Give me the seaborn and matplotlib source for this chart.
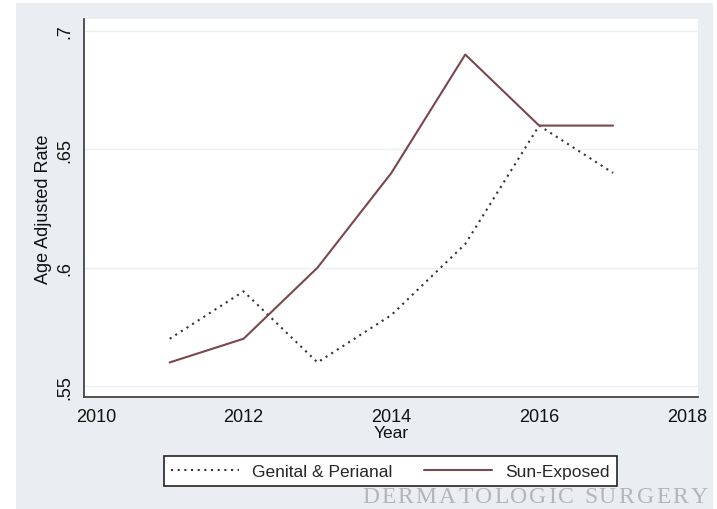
import matplotlib
matplotlib.use("Agg")
import matplotlib.pyplot as plt
import seaborn as sns
import pandas as pd
from matplotlib.patches import Rectangle
from matplotlib.lines import Line2D
from matplotlib.textpath import TextPath
from matplotlib.font_manager import FontProperties

years = [2011, 2012, 2013, 2014, 2015, 2016, 2017]
genital_perianal = [0.57, 0.59, 0.56, 0.58, 0.61, 0.66, 0.64]
sun_exposed = [0.56, 0.57, 0.60, 0.64, 0.69, 0.66, 0.66]
series_names = ["Genital & Perianal", "Sun-Exposed"]
x_ticks = [2010, 2012, 2014, 2016, 2018]
y_ticks = [0.55, 0.60, 0.65, 0.70]
y_tick_labels = [".55", ".6", ".65", ".7"]
watermark = "DERMATOLOGIC SURGERY"

df = pd.DataFrame({
    "Year": years * 2,
    "Rate": genital_perianal + sun_exposed,
    "Site": [series_names[0]] * len(years) + [series_names[1]] * len(years),
})

sns.set_style("white")
plt.rcParams["font.family"] = ["Liberation Sans", "DejaVu Sans"]

W, H = 717, 510
fig = plt.figure(figsize=(W / 100, H / 100), dpi=100)
fig.patch.set_facecolor("white")
# light grey-blue panel behind the graph
fig.patches.append(Rectangle((16 / W, 0), (713 - 16) / W, 506 / H,
                             transform=fig.transFigure, facecolor="#eaeef2",
                             edgecolor="none", zorder=-5))

ax = fig.add_axes([84 / W, (H - 398) / H, (698 - 84) / W, (398 - 20) / H])
ax.set_facecolor("white")

palette = {series_names[0]: "#333333", series_names[1]: "#7a474c"}
dashes = {series_names[0]: (1, 2.2), series_names[1]: ""}
sns.lineplot(data=df, x="Year", y="Rate", hue="Site", style="Site",
             palette=palette, dashes=dashes, linewidth=1.5, ax=ax,
             legend=False)

ax.set_xlim(2009.84, 2018.15)
ax.set_ylim(0.5454, 0.705)
ax.set_xticks(x_ticks)
ax.set_yticks(y_ticks)
ax.set_yticklabels(y_tick_labels, rotation=90, va="center")
ax.tick_params(axis="both", direction="out", length=5, width=1,
               color="#444444", labelsize=13, labelcolor="#111111", pad=3)
ax.yaxis.grid(True, color="#eceff1", linewidth=1)
ax.set_axisbelow(True)

for side in ["top", "right"]:
    ax.spines[side].set_visible(False)
for side in ["left", "bottom"]:
    ax.spines[side].set_color("#444444")
    ax.spines[side].set_linewidth(1.3)

ax.set_xlabel("Year", fontsize=12.5, labelpad=0, color="#111111")
ax.set_ylabel("Age Adjusted Rate", fontsize=13, labelpad=3, color="#111111")

handles = [Line2D([], [], color=palette[series_names[0]], linewidth=1.5,
                  dashes=(1, 2.2)),
           Line2D([], [], color=palette[series_names[1]], linewidth=1.5)]
leg = fig.legend(handles, series_names, loc="center",
                 bbox_to_anchor=(390.5 / W, (H - 472) / H), ncol=2,
                 fontsize=12.5, frameon=True, fancybox=False, handlelength=3.9,
                 columnspacing=1.8, handletextpad=0.8, borderpad=0.42)
leg.get_frame().set_edgecolor("#222222")
leg.get_frame().set_linewidth(1.2)
leg.get_frame().set_facecolor("white")
leg.get_frame().set_alpha(1)

# journal mark, serif capitals at the bottom right
wm_size = 17
wm_font = FontProperties(family="Liberation Serif", size=wm_size)
px_per_pt = 100 / 72
advances = []
for ch in watermark:
    if ch == " ":
        advances.append(wm_size * 0.25 * px_per_pt)
    else:
        ext = TextPath((0, 0), ch, prop=wm_font).get_extents()
        advances.append(ext.x1 * px_per_pt)
left, right = 362, 707
gap = (right - left - sum(advances)) / (len(watermark) - 1)
x = left
for ch, adv in zip(watermark, advances):
    fig.text(x / W, (H - 503) / H, ch, ha="left", va="baseline",
             fontproperties=wm_font, color="#b3b6b9", zorder=-1)
    x += adv + gap

fig.savefig("out.png", dpi=100)
